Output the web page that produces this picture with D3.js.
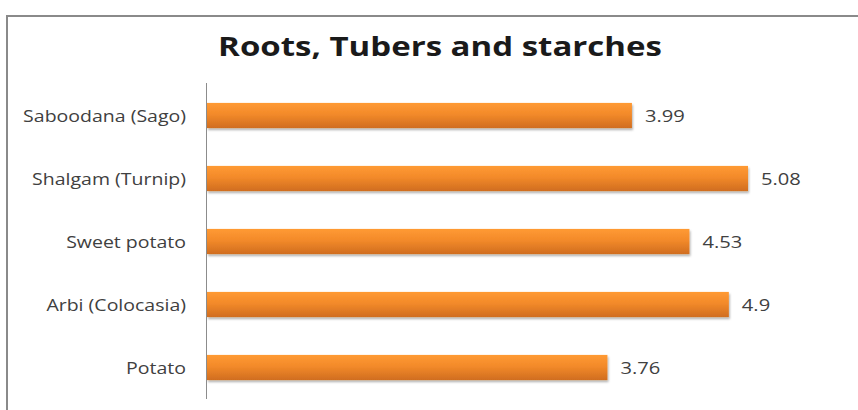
<!DOCTYPE html>
<html>
<head>
<meta charset="utf-8">
<script src="https://cdn.jsdelivr.net/npm/d3@7"></script>
<style>
  html, body { margin: 0; padding: 0; background: #fff; }
  svg { display: block; }
</style>
</head>
<body>
<svg id="chart" width="858" height="410"></svg>
<script>
// Roots, tubers and starches — values per item
const title = "Roots, Tubers and starches";
const categories = ["Saboodana (Sago)", "Shalgam (Turnip)", "Sweet potato", "Arbi (Colocasia)", "Potato"];
const values = [3.99, 5.08, 4.53, 4.9, 3.76];
const xDomain = [0, 6];

const W = 858, H = 410;
const plot = { left: 207, right: 846, top: 84, bottom: 399 };
const FONT = "'Open Sans', 'Liberation Sans', sans-serif";
const STRETCH = 1.22; // horizontal widening of the text glyphs

const svg = d3.select("#chart");
const defs = svg.append("defs");

const grad = defs.append("linearGradient")
  .attr("id", "barFill").attr("x1", 0).attr("y1", 0).attr("x2", 0).attr("y2", 1);
grad.append("stop").attr("offset", "0%").attr("stop-color", "#ff9a33");
grad.append("stop").attr("offset", "45%").attr("stop-color", "#f38a2a");
grad.append("stop").attr("offset", "100%").attr("stop-color", "#d06d1f");

const shadow = defs.append("filter").attr("id", "barShadow")
  .attr("x", "-5%").attr("y", "-30%").attr("width", "110%").attr("height", "170%");
shadow.append("feDropShadow")
  .attr("dx", 1).attr("dy", 2).attr("stdDeviation", 1.3)
  .attr("flood-color", "#000").attr("flood-opacity", 0.3);

// Outer chart frame
svg.append("rect")
  .attr("x", 7).attr("y", 16).attr("width", W + 20).attr("height", H + 20)
  .attr("fill", "none").attr("stroke", "#8a8a8a").attr("stroke-width", 2);

// Title
svg.append("text")
  .attr("transform", `translate(440,56) scale(1.27,1)`)
  .attr("text-anchor", "middle")
  .attr("font-family", FONT).attr("font-weight", 700).attr("font-size", 26)
  .attr("fill", "#1a1a1a")
  .text(title);

const x = d3.scaleLinear().domain(xDomain).range([plot.left, plot.right]);
const y = d3.scaleBand().domain(categories).range([plot.top, plot.bottom])
  .paddingInner(0.6).paddingOuter(0.3);

const data = categories.map((c, i) => ({ cat: c, val: values[i] }));

// Bars
svg.append("g").selectAll("rect").data(data).join("rect")
  .attr("x", x(0))
  .attr("y", d => y(d.cat))
  .attr("width", d => x(d.val) - x(0))
  .attr("height", y.bandwidth())
  .attr("fill", "url(#barFill)")
  .attr("filter", "url(#barShadow)");

// Category axis (line only, no ticks)
const yAxis = svg.append("g")
  .attr("transform", `translate(${plot.left - 0.5},0)`)
  .call(d3.axisLeft(y).tickSize(0).tickFormat(""));
yAxis.select(".domain").attr("stroke", "#8c8c8c").attr("stroke-width", 1)
  .attr("d", `M0,${plot.top - 1}V${plot.bottom}`);

// Category labels
svg.append("g").selectAll("text").data(data).join("text")
  .attr("transform", d => `translate(186,${y(d.cat) + y.bandwidth() / 2}) scale(${STRETCH},1)`)
  .attr("text-anchor", "end").attr("dominant-baseline", "central")
  .attr("font-family", FONT).attr("font-size", 16).attr("fill", "#404040")
  .text(d => d.cat);

// Value labels
svg.append("g").selectAll("text").data(data).join("text")
  .attr("transform", d => `translate(${x(d.val) + 13},${y(d.cat) + y.bandwidth() / 2}) scale(1.26,1)`)
  .attr("text-anchor", "start").attr("dominant-baseline", "central")
  .attr("font-family", FONT).attr("font-size", 16).attr("fill", "#404040")
  .text(d => d.val);
</script>
</body>
</html>
